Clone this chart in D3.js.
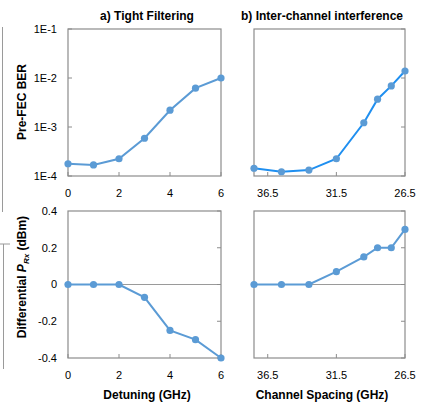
<!DOCTYPE html>
<html>
<head>
<meta charset="utf-8">
<script src="https://cdn.jsdelivr.net/npm/d3@7"></script>
<style>
  body { margin: 0; background: #fff; }
  text { font-family: "Liberation Sans", Arial, sans-serif; fill: #000; }
  .title, .axtitle { font-weight: bold; font-size: 12px; }
</style>
</head>
<body>
<div id="chart"></div>
<script>
// data
let detuning = [0, 1, 2, 3, 4, 5, 6];
let berTight = [1.78e-4, 1.68e-4, 2.25e-4, 5.9e-4, 2.2e-3, 6.2e-3, 1.0e-2];
let prxTight = [0, 0, 0, -0.07, -0.25, -0.30, -0.40];

let spacing = [37.5, 35.5, 33.5, 31.5, 29.5, 28.5, 27.5, 26.5];
let berSpacing = [1.44e-4, 1.22e-4, 1.32e-4, 2.25e-4, 1.22e-3, 3.7e-3, 6.9e-3, 1.39e-2];
let prxSpacing = [0, 0, 0, 0.07, 0.15, 0.2, 0.2, 0.30];

let berTicks = [1e-4, 1e-3, 1e-2, 1e-1];
let berLabels = ["1E-4", "1E-3", "1E-2", "1E-1"];
let prxTicks = [-0.4, -0.2, 0, 0.2, 0.4];
let prxLabels = ["-0.4", "-0.2", "0", "0.2", "0.4"];
let detTicks = [0, 2, 4, 6];
let spcTicks = [36.5, 31.5, 26.5];

let width = 424, height = 405;
let boxColor = "#8c8c8c";
let dotColor = "#5b9bd5";

let svg = d3.select("#chart").append("svg")
  .attr("width", width)
  .attr("height", height);

// columns and rows of the 2x2 grid
let colA = [68, 221], colB = [254, 405];
let rowTop = [176, 29], rowBot = [358, 211];

let xDet = d3.scaleLinear().domain([0, 6]).range(colA);
let xSpc = d3.scaleLinear().domain([37.5, 26.5]).range(colB);
let yBerA = d3.scaleLog().domain([1e-4, 1e-1]).range(rowTop);
let yBerB = d3.scaleLog().domain([1e-4, 1e-1]).range(rowTop);
let yPrxA = d3.scaleLinear().domain([-0.4, 0.4]).range(rowBot);
let yPrxB = d3.scaleLinear().domain([-0.4, 0.4]).range(rowBot);

function drawPanel(xs, ys, xVals, yVals, opts) {
  let g = svg.append("g");
  let [x0, x1] = xs.range();
  let [y0, y1] = ys.range();

  // zero line for the linear panels
  if (opts.zero) {
    g.append("line")
      .attr("x1", x0).attr("x2", x1)
      .attr("y1", ys(0)).attr("y2", ys(0))
      .attr("stroke", "#9a9a9a").attr("stroke-width", 1);
  }

  // inside tick marks
  let tickX = opts.yTickSide === "right" ? x1 : x0;
  let dir = opts.yTickSide === "right" ? -1 : 1;
  opts.yTicks.forEach(function(t) {
    g.append("line")
      .attr("x1", tickX).attr("x2", tickX + dir * 4)
      .attr("y1", ys(t)).attr("y2", ys(t))
      .attr("stroke", boxColor);
  });
  opts.xTicks.forEach(function(t) {
    g.append("line")
      .attr("x1", xs(t)).attr("x2", xs(t))
      .attr("y1", y0).attr("y2", y0 - 4)
      .attr("stroke", boxColor);
  });

  g.append("rect")
    .attr("x", x0).attr("y", y1)
    .attr("width", x1 - x0).attr("height", y0 - y1)
    .attr("fill", "none")
    .attr("stroke", boxColor).attr("stroke-width", 1.2);

  // x tick labels
  g.selectAll(".xl").data(opts.xTicks).enter().append("text")
    .attr("x", xs)
    .attr("y", y0 + 21)
    .attr("text-anchor", "middle")
    .style("font-size", "11px")
    .text(function(d) { return opts.xFormat(d); });

  if (opts.yLabels) {
    g.selectAll(".yl").data(opts.yTicks).enter().append("text")
      .attr("x", x0 - 11)
      .attr("y", ys)
      .attr("dy", "0.35em")
      .attr("text-anchor", "end")
      .style("font-size", "11px")
      .text(function(d, i) { return opts.yLabels[i]; });
  }

  let pts = xVals.map(function(v, i) { return [v, yVals[i]]; });
  let line = d3.line()
    .x(function(d) { return xs(d[0]); })
    .y(function(d) { return ys(d[1]); });

  g.append("path")
    .attr("d", line(pts))
    .attr("fill", "none")
    .attr("stroke", opts.lineColor)
    .attr("stroke-width", 2);

  g.selectAll("circle").data(pts).enter().append("circle")
    .attr("cx", function(d) { return xs(d[0]); })
    .attr("cy", function(d) { return ys(d[1]); })
    .attr("r", 3.6)
    .attr("fill", dotColor);
}

drawPanel(xDet, yBerA, detuning, berTight, {
  yTicks: berTicks, yLabels: berLabels, yTickSide: "left",
  xTicks: detTicks, xFormat: d3.format("d"), lineColor: dotColor
});
drawPanel(xSpc, yBerB, spacing, berSpacing, {
  yTicks: berTicks, yTickSide: "right",
  xTicks: spcTicks, xFormat: d3.format(".1f"), lineColor: "#1f8ff0"
});
drawPanel(xDet, yPrxA, detuning, prxTight, {
  yTicks: prxTicks, yLabels: prxLabels, yTickSide: "right", zero: true,
  xTicks: detTicks, xFormat: d3.format("d"), lineColor: dotColor
});
drawPanel(xSpc, yPrxB, spacing, prxSpacing, {
  yTicks: prxTicks, yTickSide: "right", zero: true,
  xTicks: spcTicks, xFormat: d3.format(".1f"), lineColor: dotColor
});

// titles
svg.append("text").attr("class", "title")
  .attr("x", 147).attr("y", 20).attr("text-anchor", "middle")
  .text("a) Tight Filtering");
svg.append("text").attr("class", "title")
  .attr("x", 322).attr("y", 20).attr("text-anchor", "middle")
  .text("b) Inter-channel interference");

svg.append("text").attr("class", "axtitle")
  .attr("x", 147).attr("y", 399).attr("text-anchor", "middle")
  .text("Detuning (GHz)");
svg.append("text").attr("class", "axtitle")
  .attr("x", 322).attr("y", 399).attr("text-anchor", "middle")
  .text("Channel Spacing (GHz)");

svg.append("text").attr("class", "axtitle")
  .attr("transform", "translate(26,102) rotate(-90)")
  .attr("text-anchor", "middle")
  .text("Pre-FEC BER");

let prxTitle = svg.append("text").attr("class", "axtitle")
  .attr("transform", "translate(26,277) rotate(-90)")
  .attr("text-anchor", "middle");
prxTitle.append("tspan").text("Differential ");
prxTitle.append("tspan").style("font-style", "italic").text("P");
prxTitle.append("tspan").style("font-style", "italic").style("font-size", "8px")
  .attr("dy", 3).text("Rx");
prxTitle.append("tspan").attr("dy", -3).text(" (dBm)");

// cropped edge of a neighbouring figure at the left margin
let edge = svg.append("g").attr("stroke", "#9a9a9a").attr("stroke-width", 1);
edge.append("line").attr("x1", 2.5).attr("x2", 2.5).attr("y1", 27).attr("y2", 212);
edge.append("line").attr("x1", 3.5).attr("x2", 3.5).attr("y1", 244).attr("y2", 369);
edge.append("line").attr("x1", 0).attr("x2", 10).attr("y1", 244).attr("y2", 244);
</script>
</body>
</html>
